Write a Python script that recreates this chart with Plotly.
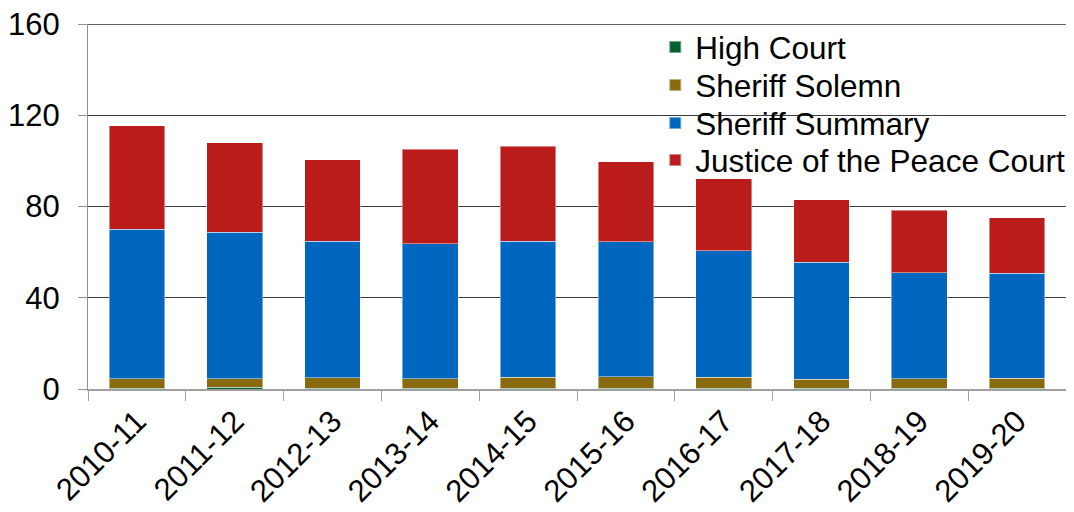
import plotly.graph_objects as go

years = ["2010-11", "2011-12", "2012-13", "2013-14", "2014-15",
         "2015-16", "2016-17", "2017-18", "2018-19", "2019-20"]
high_court = [0.3, 0.8, 0.3, 0.3, 0.3, 0.3, 0.3, 0.3, 0.3, 0.3]
sheriff_solemn = [4.2, 3.7, 4.7, 4.2, 4.8, 5.1, 4.8, 3.9, 4.2, 4.5]
sheriff_summary = [65.5, 64.3, 59.7, 59.2, 59.6, 59.2, 55.5, 51.3, 46.5, 45.9]
justice_peace = [45.4, 39.2, 35.9, 41.5, 41.7, 35.1, 31.5, 27.4, 27.3, 24.3]
y_ticks = [0, 40, 80, 120, 160]

series = [
    ("High Court", high_court, "#00612E"),
    ("Sheriff Solemn", sheriff_solemn, "#8A6A0F"),
    ("Sheriff Summary", sheriff_summary, "#0066BE"),
    ("Justice of the Peace Court", justice_peace, "#BA1C1C"),
]
legend_ids = ["legend", "legend2", "legend3", "legend4"]
legend_y = [0.937, 0.833, 0.729, 0.627]

font = "Liberation Sans, Arial, sans-serif"
fs = 31

fig = go.Figure()
for (name, vals, col), lid in zip(series, legend_ids):
    fig.add_trace(go.Bar(
        x=years, y=vals, name=name, legend=lid,
        marker=dict(color=col, line=dict(color="rgba(255,255,255,0.45)", width=1)),
    ))

legend_common = dict(
    x=0.58, xanchor="left", yanchor="middle",
    bgcolor="rgba(0,0,0,0)",
    font=dict(family=font, size=31.5, color="black"),
    itemsizing="constant",
)
legend_layout = {lid: dict(legend_common, y=ly) for lid, ly in zip(legend_ids, legend_y)}

# top gridline at the axis maximum
fig.add_shape(type="line", xref="paper", yref="y", x0=0, x1=1,
              y0=y_ticks[-1], y1=y_ticks[-1], line=dict(color="#2a2a2a", width=1.3),
              layer="below")

fig.update_layout(
    barmode="stack",
    bargap=0.43,
    width=1066, height=504,
    margin=dict(l=80, r=8, t=16, b=123, autoexpand=False),
    paper_bgcolor="white", plot_bgcolor="white",
    font=dict(family=font, size=fs, color="black"),
    showlegend=True,
    xaxis=dict(
        type="category",
        tickangle=-45,
        tickson="boundaries",
        ticks="outside", ticklen=10, tickcolor="#a0a0a0",
        showline=True, linecolor="#a0a0a0", linewidth=1.5,
        showgrid=False,
        automargin=False,
        ticklabeloverflow="allow",
        tickfont=dict(family=font, size=fs, color="black"),
    ),
    yaxis=dict(
        range=[0, 160], tickvals=y_ticks,
        ticks="outside", ticklen=9, tickcolor="#909090",
        showline=True, linecolor="#909090", linewidth=1.2,
        showgrid=True, gridcolor="#3c3c3c", gridwidth=1.2,
        zeroline=False,
        automargin=False,
        ticklabelstandoff=12,
        ticklabeloverflow="allow",
        tickfont=dict(family=font, size=fs, color="black"),
    ),
    **legend_layout,
)

fig.write_html("out.html")
